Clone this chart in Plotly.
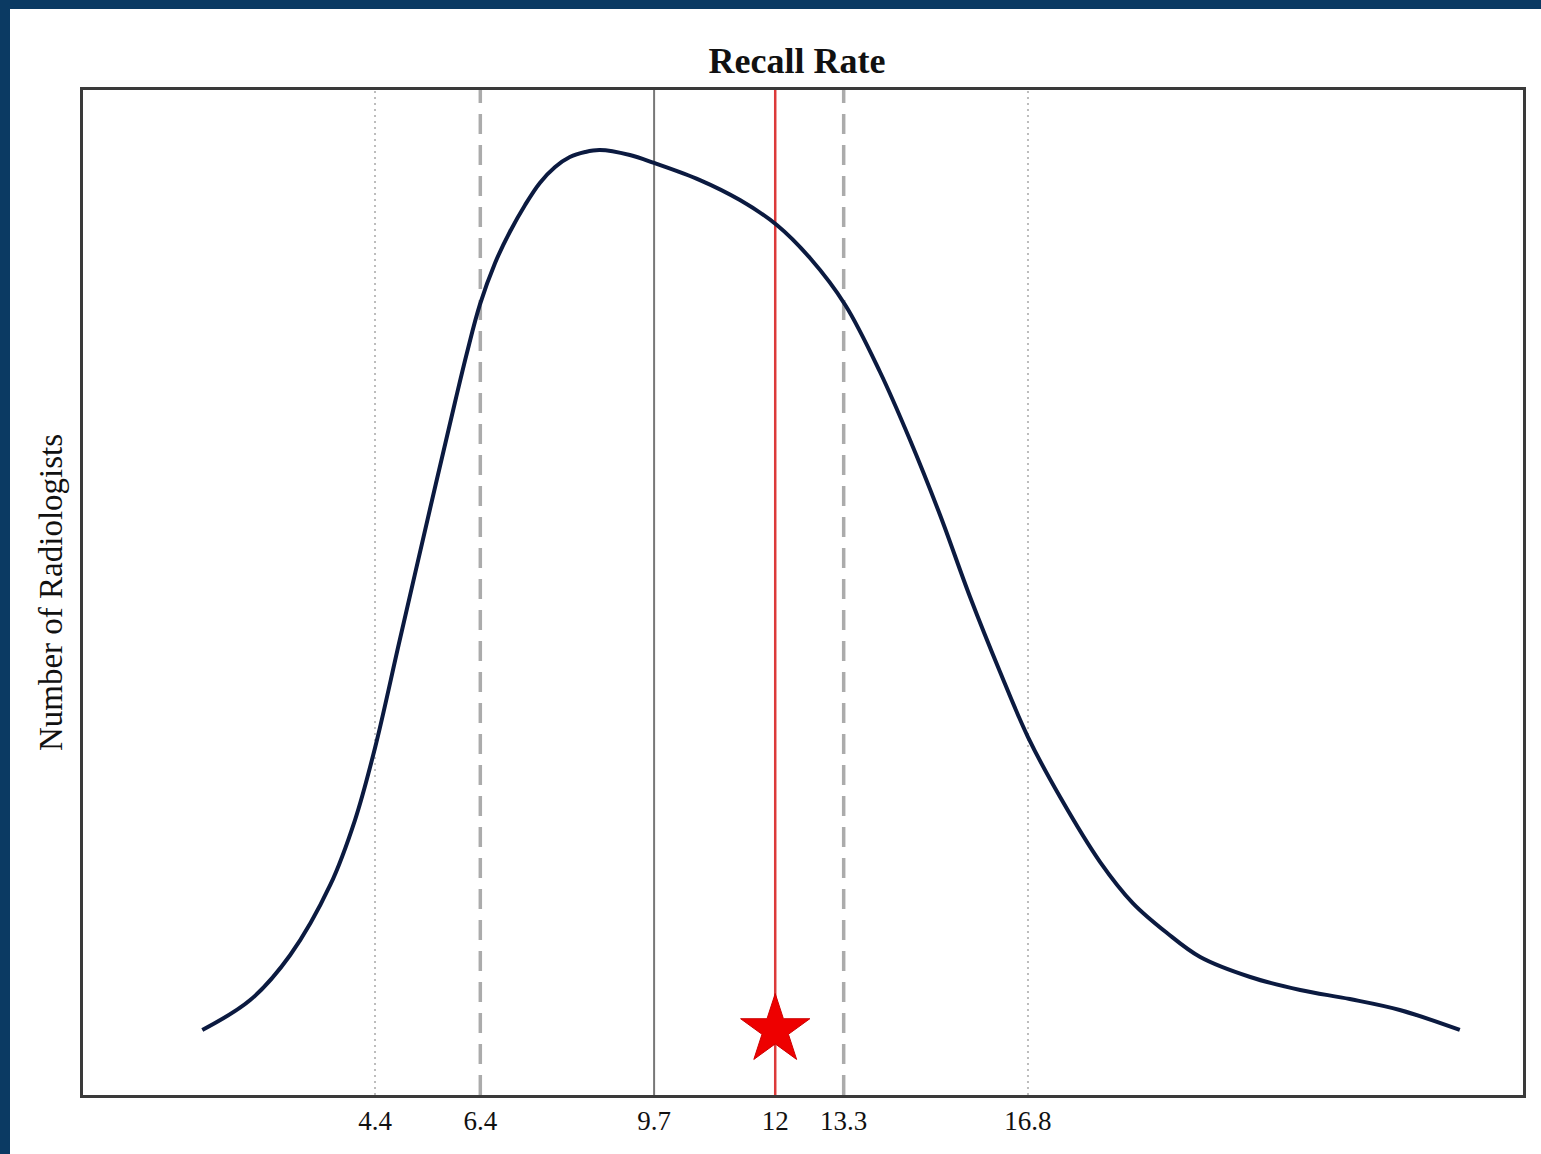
import plotly.graph_objects as go

# Density curve of recall rate (arbitrary units)
recall_x = [1.12, 2.03, 2.79, 3.55, 4.02, 4.40, 4.87, 5.44, 5.92, 6.15, 6.39, 6.68, 6.96, 7.25,
            7.53, 7.82, 8.10, 8.39, 8.67, 9.24, 9.70, 10.57, 11.33, 12.03, 12.66, 13.33, 13.99,
            14.56, 15.13, 15.70, 16.27, 16.80, 17.41, 18.17, 18.79, 19.44, 20.07, 21.02, 21.97,
            22.91, 23.86, 25.00]
density_y = [6.47, 9.45, 13.93, 20.90, 27.36, 34.53, 45.27, 58.21, 68.96, 73.93, 78.61, 82.79,
             85.87, 88.56, 90.75, 92.34, 93.33, 93.83, 94.03, 93.53, 92.74, 91.04, 89.05, 86.57,
             83.28, 78.61, 71.94, 65.17, 57.71, 49.55, 42.09, 35.62, 29.65, 23.18, 19.10, 16.12,
             13.73, 11.74, 10.45, 9.55, 8.46, 6.47]

# Reference lines
dotted_vals = [4.4, 16.8]
dashed_vals = [6.4, 13.3]
median_val = 9.7
own_rate = 12.0
star_y = 6.47

tick_vals = [4.4, 6.4, 9.7, 12, 13.3, 16.8]
tick_text = ["4.4", "6.4", "9.7", "12", "13.3", "16.8"]

W, H = 1541, 1154
ML, MR, MT, MB = 83, 18, 90, 59
PW, PH = W - ML - MR, H - MT - MB

fig = go.Figure()
fig.add_trace(go.Scatter(x=recall_x, y=density_y, mode="lines",
                         line=dict(color="#0b1a40", width=4, shape="spline", smoothing=1.0),
                         showlegend=False, hoverinfo="skip"))
fig.add_trace(go.Scatter(x=[own_rate], y=[star_y], mode="markers",
                         marker=dict(symbol="star", size=52, color="#ee0000",
                                     line=dict(color="#cc0000", width=1)),
                         showlegend=False, hoverinfo="skip"))

shapes = []
for v in dotted_vals:
    shapes.append(dict(type="line", xref="x", yref="paper", x0=v, x1=v, y0=0, y1=1,
                       line=dict(color="#bdbdbd", width=2, dash="2px,4px"), layer="below"))
for v in dashed_vals:
    shapes.append(dict(type="line", xref="x", yref="paper", x0=v, x1=v, y0=0, y1=1,
                       line=dict(color="#ababab", width=3.5, dash="20px,11px"), layer="below"))
shapes.append(dict(type="line", xref="x", yref="paper", x0=median_val, x1=median_val, y0=0, y1=1,
                   line=dict(color="#777777", width=2), layer="below"))
shapes.append(dict(type="line", xref="x", yref="paper", x0=own_rate, x1=own_rate, y0=0, y1=1,
                   line=dict(color="#dc3a3a", width=2.5), layer="below"))

# dark blue frame (top and left bands)
def px_x(p):
    return (p - ML) / PW

def px_y(p):
    return 1 - (p - MT) / PH

shapes.append(dict(type="rect", xref="paper", yref="paper", x0=px_x(0), x1=px_x(W),
                   y0=px_y(9), y1=px_y(0), fillcolor="#0b3a63", line=dict(width=0), layer="above"))
shapes.append(dict(type="rect", xref="paper", yref="paper", x0=px_x(0), x1=px_x(10),
                   y0=px_y(H), y1=px_y(0), fillcolor="#0b3a63", line=dict(width=0), layer="above"))

fig.update_layout(
    width=W, height=H,
    margin=dict(l=ML, r=MR, t=MT, b=MB),
    paper_bgcolor="white", plot_bgcolor="white",
    font=dict(family="Liberation Serif", color="#111111"),
    title=dict(text="<b>Recall Rate</b>", x=797 / W, xanchor="center",
               y=1 - 60 / H, yanchor="middle", font=dict(size=36, family="Liberation Serif")),
    shapes=shapes,
    xaxis=dict(range=[-1.145, 26.2], tickvals=tick_vals, ticktext=tick_text,
               showgrid=False, zeroline=False, showline=True, mirror=True,
               linecolor="#3a3a3a", linewidth=2.5, ticks="", tickfont=dict(size=27, color="#111111"),
               ticklabelstandoff=0),
    yaxis=dict(range=[0, 100], showticklabels=False, showgrid=False, zeroline=False,
               showline=True, mirror=True, linecolor="#3a3a3a", linewidth=2.5, ticks="",
               title=dict(text="Number of Radiologists", font=dict(size=33), standoff=8)),
)

fig.write_html("out.html", config={"displayModeBar": False},
               post_script="document.body.style.margin='0px';")
